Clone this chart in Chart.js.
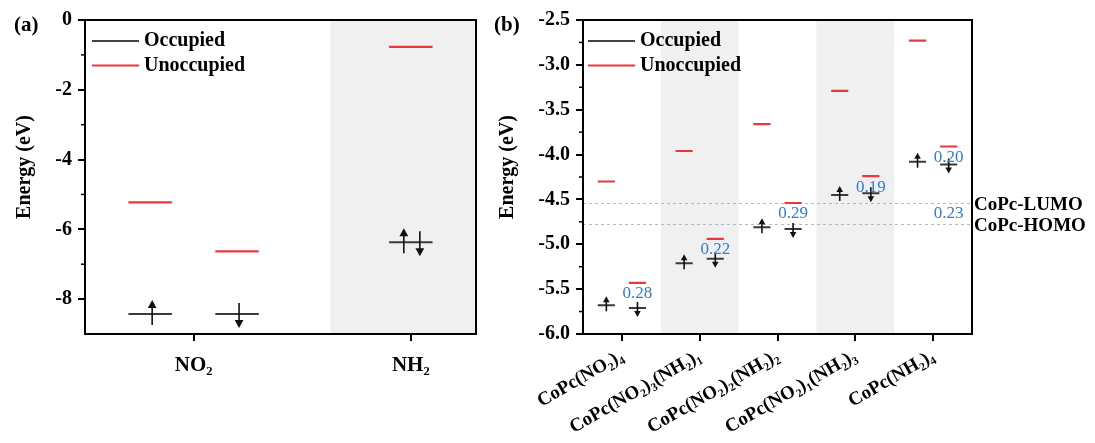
<!DOCTYPE html>
<html>
<head>
<meta charset="utf-8">
<script src="https://cdn.jsdelivr.net/npm/chart.js@4.4.1/dist/chart.umd.min.js"></script>
<style>
  body { margin: 0; background: #fff; }
  .panel { position: absolute; top: 0; }
</style>
</head>
<body>
<div class="panel" style="left:0"><canvas id="chartA" width="480" height="443"></canvas></div>
<div class="panel" style="left:480px"><canvas id="chartB" width="615" height="443"></canvas></div>
<script>
// ---- panel (a): free NO2 / NH2 groups ----
const groupsA = ['NO₂', 'NH₂'];
const levelGroupA = [1, 1, 2];
const levelSpinA = ['up', 'down', 'pair'];
const occupiedA = [-8.43, -8.43, -6.37];
const unoccupiedA = [-5.23, -6.63, -0.77];

// ---- panel (b): substituted CoPc ----
const compoundsB = ['CoPc(NO₂)₄', 'CoPc(NO₂)₃(NH₂)₁', 'CoPc(NO₂)₂(NH₂)₂', 'CoPc(NO₂)₁(NH₂)₃', 'CoPc(NH₂)₄'];
const occUpB = [-5.68, -5.21, -4.81, -4.45, -4.08];
const occDownB = [-5.71, -5.16, -4.83, -4.43, -4.11];
const unoccUpB = [-4.30, -3.96, -3.66, -3.29, -2.73];
const unoccDownB = [-5.43, -4.94, -4.54, -4.24, -3.91];
const gapLabelsB = ['0.28', '0.22', '0.29', '0.19', '0.20'];
const copcLevels = [-4.545, -4.77];
const copcNames = ['CoPc-LUMO', 'CoPc-HOMO'];
const copcGap = '0.23';

const FONT = '"Liberation Serif", "Times New Roman", "DejaVu Serif", serif';
const RED = '#e8383d';
const DARK = '#3a3a3a';
const BLUE = '#2f7bd6';
const SHADE = '#f0f0f0';

function segments(xs, ys, half) {
  const pts = [];
  xs.forEach((x, i) => {
    pts.push({x: x - half, y: ys[i]}, {x: x + half, y: ys[i]}, {x: x, y: null});
  });
  return pts;
}

function arrow(ctx, x, yTail, yTip, head) {
  const d = Math.sign(yTip - yTail);
  ctx.beginPath();
  ctx.moveTo(x, yTail);
  ctx.lineTo(x, yTip - d * head * 0.8);
  ctx.stroke();
  ctx.beginPath();
  ctx.moveTo(x, yTip);
  ctx.lineTo(x - head * 0.55, yTip - d * head);
  ctx.lineTo(x + head * 0.55, yTip - d * head);
  ctx.closePath();
  ctx.fill();
}

const decor = {
  id: 'decor',
  beforeDatasetsDraw(chart, args, o) {
    const {ctx, chartArea: a, scales: {x, y}} = chart;
    ctx.save();
    ctx.fillStyle = SHADE;
    o.bands.forEach(([b0, b1]) => {
      const p0 = Math.max(a.left, x.getPixelForValue(b0));
      const p1 = Math.min(a.right, x.getPixelForValue(b1));
      ctx.fillRect(p0, a.top, p1 - p0, a.bottom - a.top);
    });
    if (o.refLines) {
      ctx.strokeStyle = '#b8b8b8';
      ctx.lineWidth = 1;
      ctx.setLineDash([3, 3]);
      o.refLines.forEach(v => {
        const py = Math.round(y.getPixelForValue(v)) + 0.5;
        ctx.beginPath(); ctx.moveTo(a.left, py); ctx.lineTo(a.right, py); ctx.stroke();
      });
    }
    ctx.restore();
  },
  afterDraw(chart, args, o) {
    const {ctx, chartArea: a, scales: {x, y}} = chart;
    ctx.save();
    // frame
    ctx.strokeStyle = '#000';
    ctx.lineWidth = 2;
    ctx.strokeRect(a.left, a.top, a.right - a.left, a.bottom - a.top);
    // minor ticks
    ctx.lineWidth = 1.5;
    o.minor.forEach(v => {
      const py = y.getPixelForValue(v);
      ctx.beginPath(); ctx.moveTo(a.left - 4, py); ctx.lineTo(a.left, py); ctx.stroke();
    });
    // spin arrows
    ctx.strokeStyle = '#111';
    ctx.fillStyle = '#111';
    ctx.lineWidth = 1.6;
    o.arrows.forEach(([xv, yv, dir, dx]) => {
      const px = x.getPixelForValue(xv) + dx;
      const py = y.getPixelForValue(yv);
      const s = o.arrowSize;
      if (dir === 'up') arrow(ctx, px, py + s.tail, py - s.tip, s.head);
      else arrow(ctx, px, py - s.tail, py + s.tip, s.head);
    });
    // gap labels
    if (o.gaps) {
      ctx.fillStyle = BLUE;
      ctx.font = '17px ' + FONT;
      ctx.textAlign = 'center';
      ctx.textBaseline = 'middle';
      o.gaps.forEach(([xv, yv, t]) => ctx.fillText(t, x.getPixelForValue(xv), y.getPixelForValue(yv) + 11));
    }
    if (o.refLines) {
      ctx.fillStyle = '#000';
      ctx.font = 'bold 19px ' + FONT;
      ctx.textAlign = 'left';
      ctx.textBaseline = 'middle';
      o.refLines.forEach((v, i) => ctx.fillText(copcNames[i], a.right + 2, y.getPixelForValue(v) + 2));
      ctx.fillStyle = BLUE;
      ctx.font = '17px ' + FONT;
      ctx.textAlign = 'center';
      const mid = (y.getPixelForValue(o.refLines[0]) + y.getPixelForValue(o.refLines[1])) / 2;
      ctx.fillText(copcGap, x.getPixelForValue(5.2), mid);
    }
    // legend
    ctx.lineWidth = 2;
    ctx.font = 'bold 20px ' + FONT;
    ctx.textAlign = 'left';
    ctx.textBaseline = 'middle';
    [['Occupied', '#444'], ['Unoccupied', RED]].forEach(([t, c], i) => {
      const ly = a.top + 21 + i * 24.5;
      ctx.strokeStyle = c;
      ctx.beginPath(); ctx.moveTo(a.left + o.legX, ly); ctx.lineTo(a.left + o.legX + 47, ly); ctx.stroke();
      ctx.fillStyle = '#000';
      ctx.fillText(t, a.left + o.legX + 52, ly);
    });
    // axis title
    ctx.save();
    ctx.translate(o.titleX, (a.top + a.bottom) / 2 - 10);
    ctx.rotate(-Math.PI / 2);
    ctx.textAlign = 'center';
    ctx.font = 'bold 20px ' + FONT;
    ctx.fillText('Energy (eV)', 0, 0);
    ctx.restore();
    // panel tag
    ctx.font = 'bold 21px ' + FONT;
    ctx.fillText(o.tag, 14, 26);
    ctx.restore();
  }
};

function baseOptions(cfg) {
  return {
    responsive: false,
    animation: false,
    events: [],
    layout: {padding: {left: 0, top: 20, right: cfg.right, bottom: 0}},
    plugins: {legend: {display: false}, tooltip: {enabled: false}, decor: cfg.decor},
    scales: {
      x: {
        type: 'linear', min: cfg.xMin, max: cfg.xMax,
        afterBuildTicks: s => { s.ticks = cfg.cats.map((c, i) => ({value: i + 1})); },
        afterFit: s => { s.height = 109; },
        grid: {drawOnChartArea: false, drawTicks: true, tickLength: 7, color: '#000', lineWidth: 2},
        border: {display: true, color: '#000', width: 2},
        ticks: {
          autoSkip: false, color: '#000', padding: cfg.xPad,
          minRotation: cfg.rot, maxRotation: cfg.rot,
          font: {family: FONT, size: cfg.xFont, weight: 'bold'},
          callback: v => cfg.cats[v - 1]
        }
      },
      y: {
        min: cfg.yMin, max: cfg.yMax,
        afterBuildTicks: s => { s.ticks = cfg.yTicks.map(v => ({value: v})); },
        afterFit: s => { s.width = cfg.yWidth; },
        grid: {drawOnChartArea: false, drawTicks: true, tickLength: 7, color: '#000', lineWidth: 2},
        border: {display: true, color: '#000', width: 2},
        ticks: {
          color: '#000', padding: 6,
          font: {family: FONT, size: 20, weight: 'bold'},
          callback: v => cfg.yFmt(v)
        }
      }
    }
  };
}

// ---- chart (a) ----
const spinOffset = {up: -0.2, down: 0.2, pair: 0};
const xA = levelGroupA.map((g, i) => g + spinOffset[levelSpinA[i]]);
const arrowsA = [];
levelSpinA.forEach((s, i) => {
  if (s === 'pair') {
    arrowsA.push([xA[i], occupiedA[i], 'up', -7], [xA[i], occupiedA[i], 'down', 9]);
  } else {
    arrowsA.push([xA[i], occupiedA[i], s, 2]);
  }
});
const yTicksA = [-8, -6, -4, -2, 0];

new Chart(document.getElementById('chartA'), {
  type: 'scatter',
  data: {
    datasets: [
      {label: 'Occupied', data: segments(xA, occupiedA, 0.1), showLine: true, spanGaps: false,
       borderColor: DARK, borderWidth: 2, pointRadius: 0},
      {label: 'Unoccupied', data: segments(xA, unoccupiedA, 0.1), showLine: true, spanGaps: false,
       borderColor: RED, borderWidth: 2.2, pointRadius: 0}
    ]
  },
  options: baseOptions({
    right: 4, xMin: 0.5, xMax: 2.3, cats: groupsA, rot: 0, xPad: 12, xFont: 21,
    yMin: -9, yMax: 0, yTicks: yTicksA, yWidth: 85, yFmt: v => String(v),
    decor: {
      bands: [[1.63, 3]], minor: [-7, -5, -3, -1],
      arrows: arrowsA, arrowSize: {tail: 11, tip: 14, head: 8},
      legX: 7, tag: '(a)', titleX: 25
    }
  }),
  plugins: [decor]
});

// ---- chart (b) ----
const catX = compoundsB.map((c, i) => i + 1);
const upX = catX.map(v => v - 0.2);
const downX = catX.map(v => v + 0.2);
const arrowsB = [];
catX.forEach((c, i) => {
  arrowsB.push([upX[i], occUpB[i], 'up', 0], [downX[i], occDownB[i], 'down', 0]);
});
const gapsB = gapLabelsB.map((t, i) => [downX[i], unoccDownB[i], t]);
const yTicksB = [-6, -5.5, -5, -4.5, -4, -3.5, -3, -2.5];

new Chart(document.getElementById('chartB'), {
  type: 'scatter',
  data: {
    datasets: [
      {label: 'Occupied', data: segments(upX, occUpB, 0.11).concat(segments(downX, occDownB, 0.11)),
       showLine: true, spanGaps: false, borderColor: DARK, borderWidth: 2, pointRadius: 0},
      {label: 'Unoccupied', data: segments(upX, unoccUpB, 0.11).concat(segments(downX, unoccDownB, 0.11)),
       showLine: true, spanGaps: false, borderColor: RED, borderWidth: 2.2, pointRadius: 0}
    ]
  },
  options: baseOptions({
    right: 123, xMin: 0.5, xMax: 5.5, cats: compoundsB, rot: 30, xPad: 4, xFont: 19,
    yMin: -6, yMax: -2.5, yTicks: yTicksB, yWidth: 103, yFmt: v => v.toFixed(1),
    decor: {
      bands: [[1.5, 2.5], [3.5, 4.5]],
      minor: [-5.75, -5.25, -4.75, -4.25, -3.75, -3.25, -2.75],
      refLines: copcLevels,
      arrows: arrowsB, arrowSize: {tail: 6, tip: 9, head: 6},
      gaps: gapsB,
      legX: 5, tag: '(b)', titleX: 28
    }
  }),
  plugins: [decor]
});
</script>
</body>
</html>
